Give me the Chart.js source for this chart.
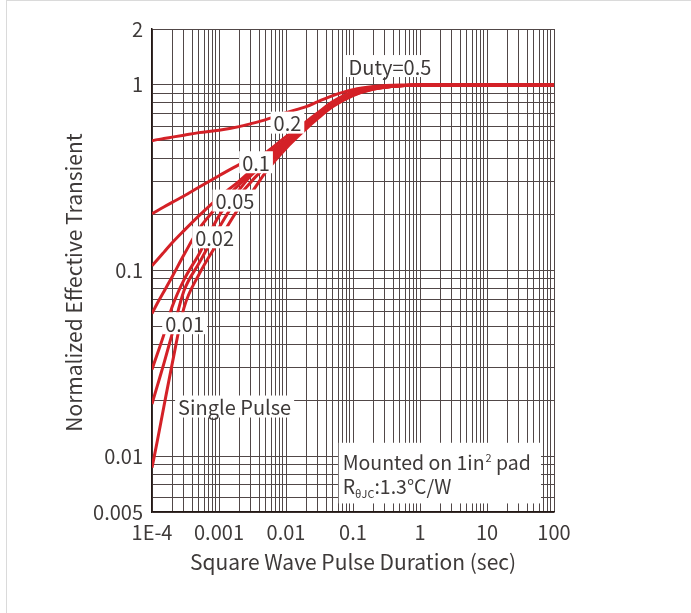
<!DOCTYPE html>
<html>
<head>
<meta charset="utf-8">
<script src="https://cdn.jsdelivr.net/npm/chart.js@4.4.0/dist/chart.umd.min.js"></script>
<style>
  html, body { margin: 0; padding: 0; background: #fff; }
  #wrap { position: relative; width: 691px; height: 613px; }
  #frame { position: absolute; left: 6px; top: 0; width: 685px; height: 613px; border-left: 1px solid #dadada; border-top: 1px solid #dadada; box-sizing: border-box; pointer-events: none; }
  canvas { position: absolute; left: 0; top: 0; }
</style>
</head>
<body>
<div id="wrap">
  <canvas id="zth" width="691" height="613"></canvas>
  <div id="frame"></div>
</div>
<script>
// pulse duration (sec)
const pulseTimes = [1e-4, 1.2e-4, 1.5e-4, 2e-4, 3e-4, 5e-4, 1e-3, 2e-3, 3e-3, 5e-3, 1e-2, 2e-2, 3e-2, 5e-2, 0.1, 0.2, 0.5, 1, 10, 100]

// normalized effective transient
const duty05 = [0.500, 0.507, 0.514, 0.523, 0.536, 0.553, 0.570, 0.596, 0.618, 0.650, 0.709, 0.764, 0.813, 0.876, 0.943, 0.979, 0.998, 1, 1, 1]
const duty02 = [0.202, 0.210, 0.220, 0.233, 0.252, 0.281, 0.324, 0.372, 0.397, 0.432, 0.526, 0.634, 0.709, 0.813, 0.920, 0.967, 0.990, 1, 1, 1]
const duty01 = [0.106, 0.1142, 0.1252, 0.141, 0.164, 0.197, 0.248, 0.303, 0.345, 0.410, 0.505, 0.620, 0.695, 0.795, 0.905, 0.960, 0.990, 1, 1, 1]
const duty005 = [0.0586, 0.0666, 0.0768, 0.0925, 0.1215, 0.167, 0.226, 0.290, 0.335, 0.395, 0.490, 0.608, 0.685, 0.785, 0.895, 0.955, 0.990, 1, 1, 1]
const duty002 = [0.0293, 0.0355, 0.0450, 0.0637, 0.0891, 0.122, 0.197, 0.272, 0.325, 0.380, 0.480, 0.600, 0.680, 0.778, 0.888, 0.952, 0.990, 1, 1, 1]
const duty001 = [0.0191, 0.0239, 0.0314, 0.0456, 0.0777, 0.109, 0.170, 0.252, 0.300, 0.365, 0.470, 0.590, 0.672, 0.772, 0.882, 0.950, 0.990, 1, 1, 1]
const singlePulse = [0.00866, 0.01206, 0.0184, 0.0314, 0.0629, 0.0949, 0.145, 0.218, 0.260, 0.340, 0.455, 0.580, 0.660, 0.764, 0.876, 0.947, 0.990, 1, 1, 1]

const seriesNames = ['0.5', '0.2', '0.1', '0.05', '0.02', '0.01', 'Single Pulse']
const seriesValues = [duty05, duty02, duty01, duty005, duty002, duty001, singlePulse]

// tick labels
const xTickValues = [1e-4, 0.001, 0.01, 0.1, 1, 10, 100]
const xTickText = ['1E-4', '0.001', '0.01', '0.1', '1', '10', '100']
const yTickValues = [0.005, 0.01, 0.1, 1, 2]
const yTickText = ['0.005', '0.01', '0.1', '1', '2']

// curve labels (where they sit, in chart units)
const curveNotes = [
  {text: 'Duty=0.5', t: 0.356, z: 1.263},
  {text: '0.2', t: 0.0105, z: 0.626},
  {text: '0.1', t: 3.57e-3, z: 0.383},
  {text: '0.05', t: 1.73e-3, z: 0.238},
  {text: '0.02', t: 8.6e-4, z: 0.151},
  {text: '0.01', t: 3.07e-4, z: 0.052},
  {text: 'Single Pulse', t: 1.71e-3, z: 0.0185}
]
const mountBox = {t0: 0.0612, z0: 0.0118, t1: 64, z1: 0.00556}
const yTitle = 'Normalized Effective Transient'

const FONT = '"Noto Sans CJK SC", "Noto Sans", sans-serif'
const TEXT = '#3e3a39'
const RED = '#d42127'

// 1..9 x 10^n grid
const logGrid = (lo, hi) => {
  const out = []
  for (let e = Math.floor(Math.log10(lo)); e <= Math.ceil(Math.log10(hi)); e++) {
    for (let m = 1; m < 10; m++) {
      const v = Number((m * Math.pow(10, e)).toPrecision(2))
      if (v >= lo * 0.999 && v <= hi * 1.001) out.push(v)
    }
  }
  return out
}

const tickText = (vals, texts) => v => {
  const i = vals.findIndex(l => Math.abs(l - v) / l < 1e-6)
  return i >= 0 ? texts[i] : ''
}

const noteBoxes = {
  id: 'noteBoxes',
  afterDatasetsDraw(chart) {
    const {ctx, scales: {x, y}} = chart
    ctx.save()
    ctx.font = '20px ' + FONT
    ctx.textBaseline = 'middle'
    ctx.textAlign = 'center'
    curveNotes.forEach(n => {
      const px = x.getPixelForValue(n.t)
      const py = y.getPixelForValue(n.z)
      const w = ctx.measureText(n.text).width + 6
      ctx.fillStyle = '#fff'
      ctx.fillRect(px - w / 2, py - 11, w, 22)
      ctx.fillStyle = TEXT
      ctx.fillText(n.text, px, py + 1)
    })

    // mounting note
    const bx = x.getPixelForValue(mountBox.t0)
    const by = y.getPixelForValue(mountBox.z0)
    const bw = x.getPixelForValue(mountBox.t1) - bx
    const bh = y.getPixelForValue(mountBox.z1) - by
    ctx.fillStyle = '#fff'
    ctx.fillRect(bx, by, bw, bh)
    ctx.fillStyle = TEXT
    ctx.textAlign = 'left'
    ctx.textBaseline = 'alphabetic'
    let cx = bx + 4
    let base = by + 27
    const big = '19.5px ' + FONT
    const small = '11px ' + FONT
    ctx.font = big
    ctx.fillText('Mounted on 1in', cx, base)
    cx += ctx.measureText('Mounted on 1in').width + 1
    ctx.font = small
    ctx.fillText('2', cx, base - 8)
    cx += ctx.measureText('2').width
    ctx.font = big
    ctx.fillText(' pad', cx, base)

    cx = bx + 4
    base = by + 51
    ctx.fillText('R', cx, base)
    cx += ctx.measureText('R').width
    ctx.font = small
    ctx.fillText('θJC', cx, base + 4)
    cx += ctx.measureText('θJC').width
    ctx.font = big
    ctx.fillText(':1.3°C/W', cx, base)
    ctx.restore()
  },
  afterDraw(chart) {
    // y title, placed a little below the plot centre as in the original
    const {ctx, chartArea} = chart
    ctx.save()
    ctx.translate(74, (chartArea.top + chartArea.bottom) / 2 + 12)
    ctx.rotate(-Math.PI / 2)
    ctx.font = '21px ' + FONT
    ctx.fillStyle = TEXT
    ctx.textAlign = 'center'
    ctx.textBaseline = 'middle'
    ctx.fillText(yTitle, 0, 0)
    ctx.restore()
  }
}

const datasets = seriesValues.map((vals, k) => ({
  label: seriesNames[k],
  data: pulseTimes.map((t, i) => ({x: t, y: vals[i]})),
  borderColor: RED,
  backgroundColor: RED,
  borderWidth: 3,
  pointRadius: 0,
  showLine: true,
  cubicInterpolationMode: 'monotone',
  fill: false
}))

new Chart('zth', {
  type: 'scatter',
  data: {datasets},
  options: {
    responsive: false,
    animation: false,
    layout: {padding: {top: 29, right: 137, left: 0, bottom: 0}},
    plugins: {legend: {display: false}, tooltip: {enabled: false}},
    scales: {
      x: {
        type: 'logarithmic',
        min: 1e-4,
        max: 100,
        afterBuildTicks: s => { s.ticks = logGrid(1e-4, 100).map(v => ({value: v})) },
        afterFit: s => { s.height = 101 },
        grid: {color: '#514747', lineWidth: 1, drawTicks: false},
        border: {color: '#231815', width: 1.5},
        ticks: {
          autoSkip: false,
          maxRotation: 0,
          padding: 8,
          color: TEXT,
          font: {family: FONT, size: 20},
          callback: tickText(xTickValues, xTickText)
        },
        title: {
          display: true,
          text: 'Square Wave Pulse Duration (sec)',
          color: TEXT,
          font: {family: FONT, size: 21},
          padding: {top: 0, bottom: 38}
        }
      },
      y: {
        type: 'logarithmic',
        min: 0.005,
        max: 2,
        afterBuildTicks: s => { s.ticks = logGrid(0.005, 2).map(v => ({value: v})) },
        afterFit: s => { s.width = 152 },
        grid: {color: '#514747', lineWidth: 1, drawTicks: false},
        border: {color: '#231815', width: 1.5},
        ticks: {
          autoSkip: false,
          padding: 9,
          color: TEXT,
          font: {family: FONT, size: 20},
          callback: tickText(yTickValues, yTickText)
        }
      }
    }
  },
  plugins: [noteBoxes]
})
</script>
</body>
</html>
